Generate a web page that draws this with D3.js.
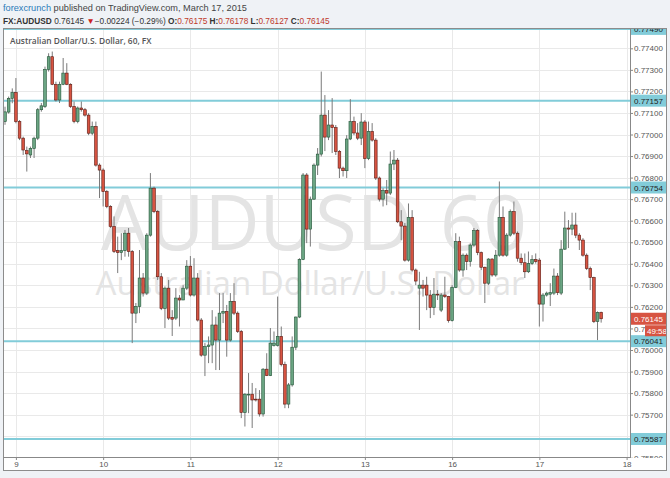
<!DOCTYPE html>
<html><head><meta charset="utf-8">
<script src="https://cdn.jsdelivr.net/npm/d3@7"></script>
<style>body{margin:0;background:#eff2f6;}svg{display:block;font-family:"Open Sans",sans-serif;}</style>
</head><body><svg id="c" width="670" height="478"></svg>
<script>
const opens=[0.77060,0.77104,0.77168,0.77195,0.77060,0.76983,0.76925,0.76905,0.76935,0.76983,0.77115,0.77130,0.77302,0.77361,0.77233,0.77160,0.77233,0.77285,0.77233,0.77130,0.77060,0.77123,0.77115,0.77090,0.77006,0.77037,0.76858,0.76835,0.76735,0.76666,0.76573,0.76461,0.76452,0.76461,0.76542,0.76457,0.76171,0.76202,0.76334,0.76264,0.76533,0.76751,0.76642,0.76340,0.76193,0.76287,0.76151,0.76148,0.76241,0.76232,0.76287,0.76389,0.76255,0.76334,0.76139,0.75976,0.76016,0.76023,0.76116,0.76046,0.76171,0.76179,0.76046,0.76225,0.76171,0.76086,0.75710,0.75791,0.75795,0.75772,0.75772,0.75703,0.75911,0.75881,0.76021,0.76021,0.76063,0.75932,0.75749,0.75838,0.76013,0.76153,0.76420,0.76812,0.76561,0.76700,0.76858,0.76909,0.77090,0.76988,0.77044,0.77032,0.76921,0.76844,0.76832,0.76979,0.77060,0.77007,0.76983,0.77058,0.76888,0.77014,0.76974,0.76798,0.76700,0.76740,0.76728,0.76863,0.76881,0.76595,0.76575,0.76417,0.76615,0.76371,0.76287,0.76301,0.76301,0.76255,0.76197,0.76259,0.76185,0.76255,0.76248,0.76136,0.76290,0.76503,0.76371,0.76440,0.76410,0.76487,0.76554,0.76452,0.76384,0.76310,0.76422,0.76348,0.76440,0.76615,0.76440,0.76533,0.76642,0.76542,0.76426,0.76405,0.76363,0.76401,0.76420,0.76417,0.76213,0.76255,0.76259,0.76264,0.76343,0.76264,0.76468,0.76566,0.76561,0.76580,0.76533,0.76510,0.76440,0.76378,0.76336,0.76132,0.76175];
const highs=[0.77129,0.77176,0.77214,0.77262,0.77067,0.76990,0.76944,0.76944,0.76990,0.77123,0.77146,0.77315,0.77377,0.77385,0.77245,0.77245,0.77355,0.77331,0.77238,0.77153,0.77130,0.77153,0.77123,0.77099,0.77060,0.77060,0.76866,0.76843,0.76742,0.76672,0.76620,0.76526,0.76542,0.76557,0.76566,0.76464,0.76218,0.76464,0.76357,0.76542,0.76821,0.76758,0.76649,0.76357,0.76295,0.76325,0.76185,0.76287,0.76255,0.76301,0.76417,0.76436,0.76426,0.76357,0.76148,0.76032,0.76063,0.76185,0.76155,0.76264,0.76264,0.76209,0.76264,0.76310,0.76179,0.76093,0.75800,0.75893,0.75847,0.75823,0.75814,0.75916,0.75985,0.76102,0.76086,0.76248,0.76109,0.75946,0.75847,0.76063,0.76155,0.76426,0.76821,0.76821,0.76712,0.76866,0.76937,0.77292,0.77183,0.77113,0.77169,0.77044,0.76928,0.76851,0.76997,0.77164,0.77083,0.77053,0.77099,0.77067,0.77060,0.77053,0.76983,0.76805,0.76751,0.76789,0.76921,0.76928,0.76891,0.76649,0.76589,0.76680,0.76649,0.76378,0.76363,0.76325,0.76340,0.76278,0.76334,0.76278,0.76264,0.76340,0.76251,0.76301,0.76542,0.76526,0.76448,0.76448,0.76494,0.76566,0.76561,0.76457,0.76387,0.76426,0.76426,0.76464,0.76782,0.76666,0.76542,0.76652,0.76689,0.76550,0.76448,0.76448,0.76457,0.76440,0.76448,0.76426,0.76264,0.76271,0.76310,0.76378,0.76357,0.76510,0.76642,0.76603,0.76637,0.76637,0.76542,0.76519,0.76448,0.76387,0.76340,0.76179,0.76178];
const lows=[0.77045,0.77097,0.77145,0.77052,0.76974,0.76905,0.76828,0.76891,0.76891,0.76974,0.77106,0.77123,0.77292,0.77229,0.77153,0.77146,0.77229,0.77229,0.77123,0.77052,0.77052,0.77106,0.77083,0.76997,0.76997,0.76851,0.76705,0.76666,0.76658,0.76566,0.76450,0.76357,0.76417,0.76433,0.76433,0.76032,0.76125,0.76171,0.76248,0.76255,0.76526,0.76635,0.76325,0.76185,0.76102,0.76139,0.76065,0.76139,0.76109,0.76232,0.76278,0.76248,0.76248,0.76132,0.75969,0.75879,0.75939,0.75939,0.75907,0.75907,0.76125,0.75969,0.76039,0.76162,0.76079,0.75684,0.75645,0.75707,0.75638,0.75761,0.75691,0.75691,0.75879,0.75879,0.76016,0.76016,0.75924,0.75730,0.75730,0.75830,0.76000,0.76148,0.76417,0.76496,0.76480,0.76696,0.76812,0.76898,0.76923,0.76974,0.76914,0.76905,0.76798,0.76805,0.76798,0.76974,0.76997,0.76974,0.76951,0.76844,0.76881,0.76967,0.76789,0.76689,0.76666,0.76672,0.76719,0.76835,0.76589,0.76510,0.76410,0.76410,0.76363,0.76301,0.76093,0.76248,0.76185,0.76148,0.76162,0.76232,0.76176,0.76241,0.76127,0.76132,0.76287,0.76363,0.76340,0.76371,0.76387,0.76480,0.76440,0.76371,0.76218,0.76301,0.76340,0.76340,0.76433,0.76433,0.76433,0.76526,0.76533,0.76410,0.76394,0.76334,0.76357,0.76394,0.76401,0.76109,0.76132,0.76248,0.76204,0.76255,0.76255,0.76255,0.76464,0.76473,0.76533,0.76519,0.76464,0.76433,0.76371,0.76278,0.76125,0.76046,0.76127];
const closes=[0.77105,0.77168,0.77195,0.77060,0.76983,0.76928,0.76910,0.76935,0.76983,0.77115,0.77133,0.77302,0.77361,0.77233,0.77160,0.77233,0.77285,0.77233,0.77130,0.77060,0.77123,0.77115,0.77090,0.77006,0.77037,0.76858,0.76835,0.76735,0.76666,0.76573,0.76457,0.76452,0.76461,0.76542,0.76457,0.76171,0.76202,0.76334,0.76264,0.76533,0.76751,0.76642,0.76340,0.76193,0.76287,0.76148,0.76143,0.76241,0.76232,0.76287,0.76389,0.76255,0.76334,0.76139,0.75976,0.76016,0.76023,0.76116,0.76046,0.76171,0.76179,0.76046,0.76225,0.76171,0.76086,0.75710,0.75795,0.75795,0.75768,0.75768,0.75703,0.75911,0.75881,0.76032,0.76032,0.76063,0.75932,0.75749,0.75838,0.76013,0.76153,0.76420,0.76812,0.76561,0.76700,0.76858,0.76909,0.77090,0.76988,0.77044,0.77032,0.76921,0.76844,0.76832,0.76979,0.77060,0.77007,0.76983,0.77058,0.76888,0.77014,0.76974,0.76798,0.76700,0.76740,0.76728,0.76863,0.76881,0.76595,0.76575,0.76417,0.76615,0.76371,0.76320,0.76301,0.76287,0.76255,0.76197,0.76259,0.76255,0.76255,0.76248,0.76136,0.76290,0.76503,0.76371,0.76440,0.76410,0.76487,0.76554,0.76452,0.76384,0.76310,0.76422,0.76348,0.76440,0.76615,0.76440,0.76533,0.76642,0.76542,0.76426,0.76405,0.76363,0.76401,0.76420,0.76410,0.76213,0.76255,0.76264,0.76266,0.76343,0.76266,0.76468,0.76566,0.76561,0.76580,0.76533,0.76510,0.76440,0.76378,0.76336,0.76132,0.76174,0.76145];
const dayLabels=["9","10","11","12","13","16","17","18"];
const dayStarts=[3,27,51,75,99,123,147,171];
const priceTicks=[0.755,0.756,0.757,0.758,0.759,0.760,0.761,0.762,0.763,0.764,0.765,0.766,0.767,0.768,0.769,0.770,0.771,0.772,0.773,0.774];
const levels=[0.77490,0.77157,0.76754,0.76041,0.75587];
const lastPrice=0.76145, countdown="49:58";

const svg=d3.select("#c");
const L=3,R=630,T=29,B=457;
const x=d3.scaleLinear().domain([0,171]).range([5,626.6]);
const y=d3.scaleLinear().domain([0.755,0.774]).range([457.75,48.3]);
const axFont="Arial, 'Liberation Sans', sans-serif";

// header
const h1=svg.append("text").attr("x",3).attr("y",11).attr("font-size",9.2).attr("fill","#444").attr("font-family",axFont);
h1.append("tspan").attr("fill","#2b7bb9").text("forexcrunch");
h1.append("tspan").text(" published on TradingView.com, March 17, 2015");
const h2=svg.append("text").attr("x",3).attr("y",24).attr("font-size",8.3).attr("fill","#333").attr("font-family",axFont);
h2.append("tspan").attr("font-weight","bold").text("FX:AUDUSD");
h2.append("tspan").text(" 0.76145 ");
h2.append("tspan").attr("fill","#c22").text("▼");
h2.append("tspan").text("−0.00224 (−0.29%) ");
[["O:","0.76175"],["H:","0.76178"],["L:","0.76127"],["C:","0.76145"]].forEach(([k,v],i)=>{
  h2.append("tspan").attr("font-weight","bold").text((i?" ":"")+k);
  h2.append("tspan").attr("fill","#c0392b").text(v);
});

// frame
svg.append("rect").attr("x",3.5).attr("y",28.5).attr("width",663).attr("height",442).attr("fill","#fff").attr("stroke","#8c8c8c");

const defs=svg.append("defs");
defs.append("clipPath").attr("id","plot").append("rect").attr("x",L+1).attr("y",T).attr("width",R-L-1).attr("height",B-T);
defs.append("clipPath").attr("id","axr").append("rect").attr("x",R).attr("y",T).attr("width",36).attr("height",B-T+1);

const plot=svg.append("g").attr("clip-path","url(#plot)");
// grid
plot.selectAll("line.hg").data(priceTicks).join("line").attr("x1",L).attr("x2",R)
  .attr("y1",d=>Math.round(y(d))+0.5).attr("y2",d=>Math.round(y(d))+0.5).attr("stroke","#e9e9e9");
plot.selectAll("line.vg").data(dayStarts).join("line").attr("y1",T).attr("y2",B)
  .attr("x1",d=>Math.round(x(d))+0.5).attr("x2",d=>Math.round(x(d))+0.5).attr("stroke","#e9e9e9");

// watermark
plot.append("text").attr("x",101).attr("y",250).attr("font-size",76).attr("fill","#e4e4e4").text("AUDUSD");
plot.append("text").attr("x",527).attr("y",250).attr("text-anchor","end").attr("font-size",76).attr("fill","#e4e4e4").text("60");
plot.append("text").attr("x",310).attr("y",295).attr("text-anchor","middle").attr("font-size",33).attr("fill","#e4e4e4").text("Australian Dollar/U.S. Dollar");

// levels
plot.selectAll("line.lv").data(levels).join("line").attr("x1",L).attr("x2",R)
  .attr("y1",d=>y(d)).attr("y2",d=>y(d)).attr("stroke","#82ccd9").attr("stroke-width",2);

// candles
const idx=d3.range(opens.length);
plot.selectAll("line.wk").data(idx).join("line")
  .attr("x1",i=>x(i)).attr("x2",i=>x(i)).attr("y1",i=>y(highs[i])).attr("y2",i=>y(lows[i]))
  .attr("stroke","#7a7a7a").attr("stroke-width",1);
plot.selectAll("rect.bd").data(idx).join("rect")
  .attr("x",i=>x(i)-1.35).attr("width",2.7)
  .attr("y",i=>y(Math.max(opens[i],closes[i])))
  .attr("height",i=>Math.max(0.8,Math.abs(y(opens[i])-y(closes[i]))))
  .attr("fill",i=>closes[i]>=opens[i]?"#6ba583":"#d75442")
  .attr("stroke",i=>closes[i]>=opens[i]?"#225437":"#5b1a13").attr("stroke-width",0.6);

// title
svg.append("text").attr("x",10).attr("y",44).attr("font-size",8.4).attr("font-weight",600).attr("fill","#555")
  .text("Australian Dollar/U.S. Dollar, 60, FX");

// right axis (labels hidden under a level box are omitted, as in the reference)
const covered=d=>levels.some(v=>Math.abs(y(v)-y(d))<5);
const ax=svg.append("g").attr("clip-path","url(#axr)").append("g").attr("transform",`translate(${R},0)`)
  .call(d3.axisRight(y).tickValues(priceTicks.filter(d=>!covered(d))).tickFormat(d3.format(".5f")).tickSize(3).tickPadding(1));
ax.select(".domain").remove();
ax.selectAll("text").attr("font-size",8).attr("fill","#555").attr("font-family",axFont);
ax.selectAll("line").attr("stroke","#888");
svg.append("line").attr("x1",R+0.5).attr("x2",R+0.5).attr("y1",T).attr("y2",B).attr("stroke","#888");

// level labels
const lg=svg.append("g").attr("clip-path","url(#axr)");
levels.forEach(v=>{
  lg.append("rect").attr("x",R+1).attr("y",y(v)-6).attr("width",35).attr("height",12).attr("fill","#82ccd9");
  lg.append("text").attr("x",R+4).attr("y",y(v)+3).attr("font-size",8).attr("fill","#222")
    .attr("font-family",axFont).text(v.toFixed(5));
});
// last price
lg.append("rect").attr("x",R+1).attr("y",y(lastPrice)-6).attr("width",35).attr("height",12).attr("fill","#d75442");
lg.append("text").attr("x",R+4).attr("y",y(lastPrice)+3).attr("font-size",8).attr("fill","#fff")
  .attr("font-family",axFont).text(lastPrice.toFixed(5));
lg.append("rect").attr("x",R+15).attr("y",y(lastPrice)+6.5).attr("width",21).attr("height",11).attr("fill","#d75442");
lg.append("text").attr("x",R+17).attr("y",y(lastPrice)+15).attr("font-size",8).attr("fill","#fff")
  .attr("font-family",axFont).text(countdown);

// bottom axis
const bx=svg.append("g").attr("transform",`translate(0,${B})`)
  .call(d3.axisBottom(x).tickValues(dayStarts).tickFormat((d,i)=>dayLabels[i]).tickSize(3).tickPadding(1.5));
bx.select(".domain").remove();
bx.selectAll("text").attr("font-size",8).attr("fill","#555").attr("font-family",axFont);
bx.selectAll("line").attr("stroke","#888");
svg.append("line").attr("x1",L).attr("x2",R+1).attr("y1",B+0.5).attr("y2",B+0.5).attr("stroke","#888");
</script></body></html>
